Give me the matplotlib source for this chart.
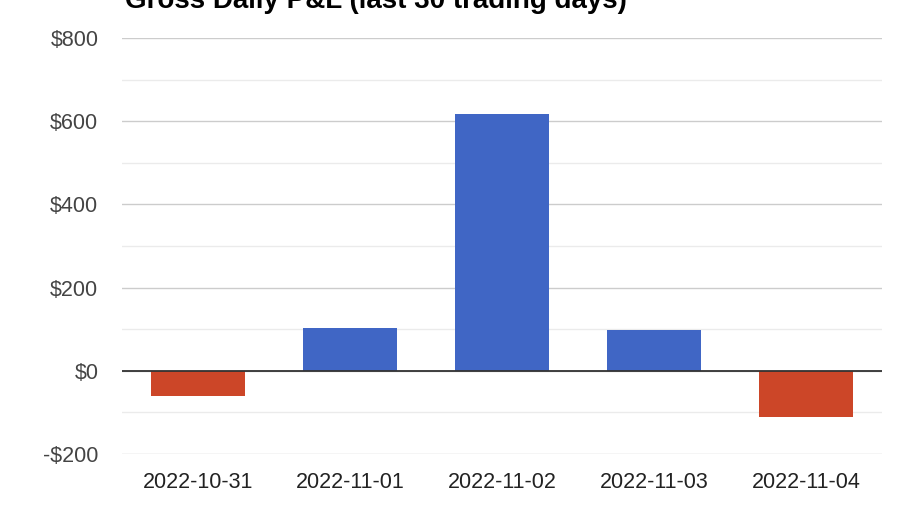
import matplotlib.pyplot as plt
from matplotlib.ticker import MultipleLocator, FuncFormatter

plt.rcParams['font.family'] = ['Liberation Sans', 'DejaVu Sans']

# Data
dates = ['2022-10-31', '2022-11-01', '2022-11-02', '2022-11-03', '2022-11-04']
pnl = [-60, 103, 617, 99, -111]

blue = '#4066c5'
red = '#cc4628'
colors = [blue if v >= 0 else red for v in pnl]

W, H = 918, 514
fig = plt.figure(figsize=(W / 100, H / 100), dpi=100)
ax = fig.add_axes([122 / W, 1 - 454 / H, (882 - 122) / W, (454 - 38) / H])

x = range(len(dates))
ax.bar(x, pnl, width=0.62, color=colors, zorder=3)
ax.set_xlim(-0.5, len(dates) - 0.5)
ax.set_ylim(-200, 800)

ax.yaxis.set_major_locator(MultipleLocator(200))
ax.yaxis.set_minor_locator(MultipleLocator(100))
ax.yaxis.set_major_formatter(FuncFormatter(lambda v, p: f'-${-v:.0f}' if v < 0 else f'${v:.0f}'))
ax.grid(True, axis='y', which='major', color='#cccccc', linewidth=1, zorder=0)
ax.grid(True, axis='y', which='minor', color='#ebebeb', linewidth=1, zorder=0)
ax.axhline(0, color='#333333', linewidth=1.3, zorder=4)

ax.set_xticks(list(x))
ax.set_xticklabels(dates)
ax.tick_params(axis='both', which='both', length=0, labelsize=15.5)
ax.tick_params(axis='y', pad=17, colors='#444444')
ax.tick_params(axis='x', pad=13, colors='#222222')
for s in ax.spines.values():
    s.set_visible(False)

# title sits mostly above the top edge, as in the reference
fig.text(125 / W, 1 - 7.5 / H, 'Gross Daily P&L (last 30 trading days)', fontsize=20,
         fontweight='bold', ha='left', va='baseline', color='#000000')

fig.savefig('out.png', dpi=100)
